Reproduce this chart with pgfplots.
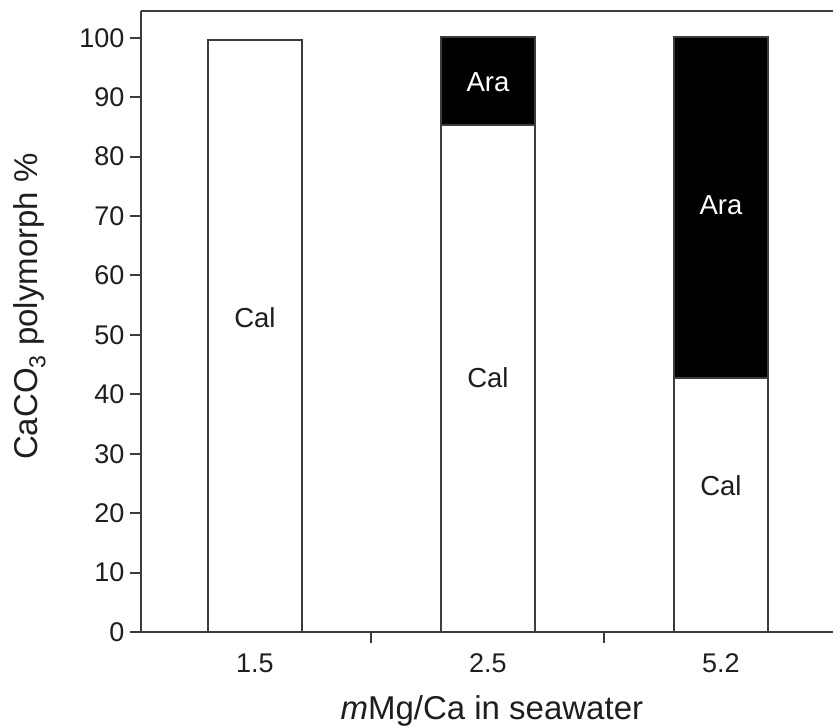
\documentclass[border=0pt]{standalone}
\usepackage{pgfplots}
\pgfplotsset{compat=1.18}
\usepackage{fontspec}
\setmainfont{Liberation Sans}

\definecolor{linegray}{HTML}{3C3C3C}
\definecolor{textgray}{HTML}{1E1E1E}

\begin{document}
\begin{tikzpicture}
\path[use as bounding box] (0pt,0pt) rectangle (833pt,727pt);
\begin{axis}[
  at={(141pt,95pt)}, anchor=south west,
  scale only axis, width=692pt, height=621pt,
  ymin=0, ymax=104.5,
  xmin=-0.489, xmax=2.481,
  axis x line*=box, axis y line*=left,
  axis line style={draw=linegray, line width=2.2pt},
  tick align=outside,
  major tick length=11pt,
  tick style={draw=linegray, line width=2pt},
  ytick={0,10,...,100},
  xtick={0.5,1.5}, xticklabels={,},
  xtick pos=bottom,
  extra x ticks={0,1,2},
  extra x tick labels={1.5,2.5,5.2},
  extra x tick style={major tick length=0pt, tick style={draw=none},
    xticklabel style={anchor=base, yshift=-41pt}},
  /pgf/number format/assume math mode=true,
  ticklabel style={font=\fontsize{27}{30}\selectfont, text=textgray},
  yticklabel style={xshift=-2pt},
  ybar, bar width=0.4, bar shift=0pt,
  clip=false,
]
% total (calcite + aragonite) height, drawn black; the calcite part is laid over it
\addplot[fill=black, draw=linegray, line width=2pt]
  coordinates {(1,100.2) (2,100.1)};
% calcite share (%) at mMg/Ca = 1.5, 2.5, 5.2
\addplot[fill=white, draw=linegray, line width=2pt]
  coordinates {(0,99.7) (1,85.3) (2,42.7)};

% polymorph names inside the bars
\node[text=textgray, font=\fontsize{27.5}{30}\selectfont] at (axis cs:0,52.9) {Cal};
\node[text=textgray, font=\fontsize{27.5}{30}\selectfont] at (axis cs:1,42.8) {Cal};
\node[text=white, font=\fontsize{27.5}{30}\selectfont] at (axis cs:1,92.5) {Ara};
\node[text=textgray, font=\fontsize{27.5}{30}\selectfont] at (axis cs:2,24.6) {Cal};
\node[text=white, font=\fontsize{27.5}{30}\selectfont] at (axis cs:2,71.8) {Ara};

% axis titles
\node[anchor=base, text=textgray, font=\fontsize{33}{38}\selectfont]
  at (axis description cs:0.507,-0.1417) {\textit{m}Mg/Ca in seawater};
\node[anchor=base, rotate=90, text=textgray, font=\fontsize{33}{38}\selectfont]
  at (axis description cs:-0.149,0.524) {CaCO\textsubscript{3} polymorph \%};
\end{axis}
\end{tikzpicture}
\end{document}
